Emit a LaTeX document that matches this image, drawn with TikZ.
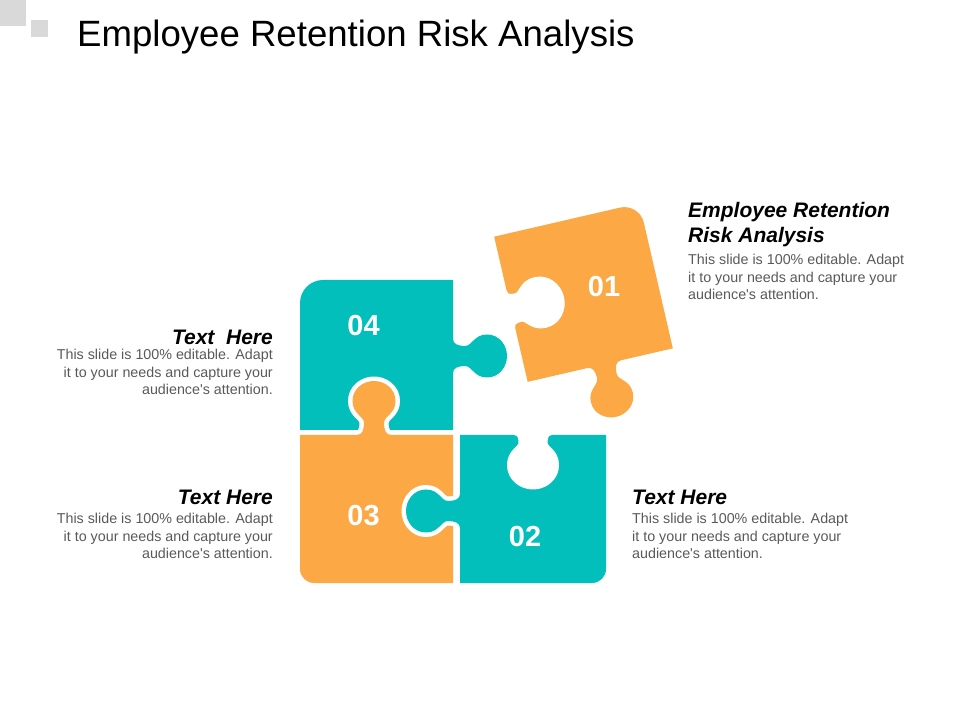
\documentclass[tikz,border=0pt]{standalone}
\usepackage{fontspec}
\setmainfont{Liberation Sans}
\usepackage{tikz}
\definecolor{pzteal}{HTML}{02BFBC}
\definecolor{pzorange}{HTML}{FBA845}
\definecolor{txtgray}{HTML}{595959}
\definecolor{boxgray}{HTML}{D9D9D9}
\tikzstyle{num}=[text=white, font=\bfseries\fontsize{29}{29}\selectfont, inner sep=0]
\tikzstyle{head}=[font=\bfseries\itshape\fontsize{21}{25}\selectfont, inner sep=0]
\tikzstyle{body}=[text=txtgray, font=\fontsize{14.3}{17.6}\selectfont, inner sep=0]
\tikzstyle{halo}=[draw=white, fill=white, line width=9pt, line join=round]
% one tab of a piece, edge on the x axis, pointing up
\newcommand{\tabpath}{(-17,-3) -- (-17,0) .. controls (-12,0) and (-10,5) .. (-10,12)
  .. controls (-10,19) and (-21.5,21) .. (-21.5,34) .. controls (-21.5,46) and (-11,54) .. (0,54)
  .. controls (11,54) and (21.5,46) .. (21.5,34) .. controls (21.5,21) and (10,19) .. (10,12)
  .. controls (10,5) and (12,0) .. (17,0) -- (17,-3) -- cycle}

\begin{document}
\begin{tikzpicture}[x=1pt, y=1pt]
    \useasboundingbox (0,0) rectangle (960,720);
    \fill[boxgray] (0,694) rectangle (26,720);
    \fill[boxgray] (31,683) rectangle (48,700);
    \node[anchor=base west, inner sep=0, font=\fontsize{36.6}{36.6}\selectfont] (title) at (77,673)
      {Employee Retention Risk Analysis};

    % piece 04
    \fill[pzteal] (300,290) -- (300,417) arc[start angle=180, end angle=90, radius=23]
      -- (453,440) -- (453,290) -- cycle;
    \begin{scope}[shift={(453,364)}, rotate=-90]
      \fill[pzteal] \tabpath;
    \end{scope}
    % piece 03
    \begin{scope}[shift={(374,285)}]
      \path[halo] \tabpath;
    \end{scope}
    \fill[pzorange] (300,285) -- (453,285) -- (453,137) -- (314,137)
      arc[start angle=270, end angle=180, radius=14] -- cycle;
    \begin{scope}[shift={(374,285)}]
      \fill[pzorange] \tabpath;
    \end{scope}
    % piece 02
    \begin{scope}[shift={(460,209)}, rotate=90]
      \path[halo] \tabpath;
    \end{scope}
    \fill[pzteal] (460,285) -- (606,285) -- (606,151) arc[start angle=0, end angle=-90, radius=14]
      -- (460,137) -- cycle;
    \begin{scope}[shift={(460,209)}, rotate=90]
      \fill[pzteal] \tabpath;
    \end{scope}
    \begin{scope}[shift={(533,289)}, rotate=180]
      \path[halo] \tabpath;
    \end{scope}
    % piece 01
    \begin{scope}[shift={(583.5,427.5)}, rotate=13]
      \fill[pzorange] (-74.5,-74.5) -- (-74.5,74.5) -- (54.5,74.5)
        arc[start angle=90, end angle=0, radius=20] -- (74.5,-74.5) -- cycle;
      \begin{scope}[shift={(4,-74.5)}, rotate=180]
        \fill[pzorange] \tabpath;
      \end{scope}
      \begin{scope}[shift={(-78.5,0)}, rotate=-90]
        \path[halo] \tabpath;
      \end{scope}
    \end{scope}

    \node[num] (n04) at (363.5,394.5) {04};
    \node[num] (n03) at (363.5,204) {03};
    \node[num] (n02) at (525,183) {02};
    \node[num] (n01) at (604,433) {01};

    \node[head, anchor=north west, align=left] (h1) at (688,518) {Employee Retention\\Risk Analysis};
    \node[body, anchor=north west, align=left] (b1) at (688,466)
      {This slide is 100\% editable. Adapt\\it to your needs and capture your\\audience\textquotesingle s attention.};
    \node[head, anchor=north east, align=right] (h2) at (273,390) {Text\ \ Here};
    \node[body, anchor=north east, align=right] (b2) at (273,371)
      {This slide is 100\% editable. Adapt\\it to your needs and capture your\\audience\textquotesingle s attention.};
    \node[head, anchor=north east, align=right] (h3) at (273,230) {Text Here};
    \node[body, anchor=north east, align=right] (b3) at (273,207)
      {This slide is 100\% editable. Adapt\\it to your needs and capture your\\audience\textquotesingle s attention.};
    \node[head, anchor=north west, align=left] (h4) at (632,230) {Text Here};
    \node[body, anchor=north west, align=left] (b4) at (632,207)
      {This slide is 100\% editable. Adapt\\it to your needs and capture your\\audience\textquotesingle s attention.};
\end{tikzpicture}
\end{document}
